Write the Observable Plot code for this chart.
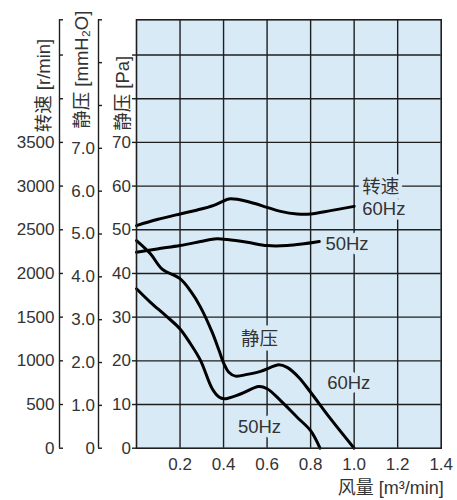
<!DOCTYPE html>
<html><head><meta charset="utf-8">
<script src="https://cdn.jsdelivr.net/npm/d3@7"></script>
<script src="https://cdn.jsdelivr.net/npm/@observablehq/plot@0.6"></script>
<style>
html,body{margin:0;padding:0;background:#fff;}
</style></head><body><div id="chart"></div>
<script>
// unit conversions of the three left axes
const PA_PER_MMH2O = 9.80665;
const RPM_PER_PA = 50;
const Y_TOP_MMH2O = 10;

// speed curves: flow [m3/min] -> r/min
const speed60Flow = [0, 0.095, 0.2, 0.28, 0.355, 0.394, 0.424, 0.463, 0.54, 0.6, 0.662, 0.738, 0.8, 0.892, 1.0];
const speed60Rpm  = [2548, 2617, 2681, 2727, 2780, 2822, 2853, 2849, 2803, 2757, 2711, 2681, 2681, 2719, 2768];
const speed50Flow = [0, 0.095, 0.2, 0.294, 0.34, 0.371, 0.417, 0.509, 0.6, 0.692, 0.769, 0.84];
const speed50Rpm  = [2243, 2281, 2319, 2365, 2388, 2396, 2388, 2357, 2319, 2319, 2339, 2365];

// static pressure curves: flow [m3/min] -> Pa
const static60Flow = [0, 0.064, 0.118, 0.2, 0.248, 0.294, 0.348, 0.379, 0.402, 0.424, 0.455, 0.509, 0.57, 0.616, 0.654, 0.692, 0.746, 0.8, 0.892, 1.0];
const static60Pa   = [47.5, 44.5, 41.0, 38.8, 36.0, 32.3, 26.5, 22.4, 19.3, 17.4, 16.5, 16.9, 17.6, 18.5, 19.1, 18.5, 16.2, 12.8, 6.7, 0];
const static50Flow = [0, 0.064, 0.133, 0.2, 0.248, 0.294, 0.348, 0.379, 0.402, 0.478, 0.562, 0.6, 0.662, 0.738, 0.8, 0.843];
const static50Pa   = [36.5, 33.4, 30.4, 27.3, 23.9, 20.1, 13.6, 11.7, 11.3, 12.4, 14.1, 13.6, 10.9, 7.1, 4.0, 0];

// ticks
const xTicks = [0.2, 0.4, 0.6, 0.8, 1.0, 1.2, 1.4];
const xGrid = [0.2, 0.4, 0.6, 0.8, 1.0, 1.2];
const paTicks = [0, 10, 20, 30, 40, 50, 60, 70, 80, 90];
const paLabelMax = 70;
const rpmTicks = [0, 500, 1000, 1500, 2000, 2500, 3000, 3500, 4000, 4500];
const rpmLabelMax = 3500;
const mmTicks = [0, 1, 2, 3, 4, 5, 6, 7, 8, 9];
const mmLabelMax = 7;
const paGrid = [10, 20, 30, 40, 50, 60, 70, 80, 90];

// annotations (left edge of each label)
const labelText = ["转速", "60Hz", "50Hz", "静压", "60Hz", "50Hz"];
const labelFlow = [1.037, 1.037, 0.868, 0.48, 0.876, 0.466];
const labelPa   = [59.8, 54.8, 46.8, 25.0, 14.9, 4.8];

const yTop = Y_TOP_MMH2O * PA_PER_MMH2O;
const zip = (xs, ys) => xs.map((x, i) => ({x, y: ys[i]}));
const speed60 = zip(speed60Flow, speed60Rpm.map(r => r / RPM_PER_PA));
const speed50 = zip(speed50Flow, speed50Rpm.map(r => r / RPM_PER_PA));
const static60 = zip(static60Flow, static60Pa);
const static50 = zip(static50Flow, static50Pa);
const labels = labelText.map((t, i) => ({t, x: labelFlow[i], y: labelPa[i]}));

const BG = "#d9eaf7";
const INK = "#1e1e1e";
const TXT = "#333333";
const FONT = '"Liberation Sans", Arial, "Noto Sans CJK SC", sans-serif';

const rpmAxisTicks = [...rpmTicks.map(r => r / RPM_PER_PA), yTop];
const mmAxisTicks = [...mmTicks.map(m => m * PA_PER_MMH2O), yTop];
const paAxisTicks = paTicks;

const plot = Plot.plot({
  width: 457,
  height: 500,
  marginLeft: 136,
  marginRight: 16.3,
  marginTop: 19.3,
  marginBottom: 52.3,
  style: {fontFamily: FONT, fontSize: "17px", color: TXT, background: "#fff"},
  x: {domain: [0, 1.4]},
  y: {domain: [0, yTop]},
  marks: [
    Plot.frame({fill: BG, stroke: null}),
    Plot.ruleX(xGrid, {stroke: INK, strokeWidth: 1.4}),
    Plot.ruleY(paGrid, {stroke: INK, strokeWidth: 1.4}),
    Plot.line(speed60, {x: "x", y: "y", curve: "catmull-rom", stroke: "#000", strokeWidth: 3}),
    Plot.line(speed50, {x: "x", y: "y", curve: "catmull-rom", stroke: "#000", strokeWidth: 3}),
    Plot.line(static60, {x: "x", y: "y", curve: "catmull-rom", stroke: "#000", strokeWidth: 3}),
    Plot.line(static50, {x: "x", y: "y", curve: "catmull-rom", stroke: "#000", strokeWidth: 3}),
    Plot.text(labels, {x: "x", y: "y", text: "t", textAnchor: "start", fontSize: 18.5, fill: TXT, stroke: BG, strokeWidth: 9, paintOrder: "stroke"}),
    Plot.frame({stroke: INK, strokeWidth: 1.6}),
    // Pa axis
    Plot.axisY({ticks: paAxisTicks, tickFormat: d => d <= paLabelMax ? String(d) : "", tickSize: 4, tickPadding: 1.5, stroke: INK, strokeWidth: 1.4, fill: TXT, label: null}),
    // mmH2O axis
    Plot.ruleX([0], {y1: 0, y2: yTop, dx: -38, stroke: INK, strokeWidth: 1.4}),
    Plot.axisY({ticks: mmAxisTicks, tickFormat: d => { const m = d / PA_PER_MMH2O; return m <= mmLabelMax + 1e-9 ? (m === 0 ? "0" : m.toFixed(1)) : ""; }, tickSize: -4, tickPadding: 7.5, dx: -38, stroke: INK, strokeWidth: 1.4, fill: TXT, label: null}),
    // rpm axis
    Plot.ruleX([0], {y1: 0, y2: yTop, dx: -77, stroke: INK, strokeWidth: 1.4}),
    Plot.axisY({ticks: rpmAxisTicks, tickFormat: d => { const r = Math.round(d * RPM_PER_PA); return r <= rpmLabelMax ? String(r) : ""; }, tickSize: -4, tickPadding: 9, dx: -77, stroke: INK, strokeWidth: 1.4, fill: TXT, label: null}),
    // x axis
    Plot.axisX({ticks: xTicks, tickFormat: d => d.toFixed(1), tickSize: 0, tickPadding: 10, fill: TXT, label: null}),
    // axis titles
    Plot.text(["转速 [r/min]"], {frameAnchor: "top-left", rotate: -90, textAnchor: "start", lineAnchor: "middle", dx: -92, dy: 112.5, fontSize: 18.5, fill: TXT}),
    Plot.text(["静压 [mmH₂O]"], {frameAnchor: "top-left", rotate: -90, textAnchor: "start", lineAnchor: "middle", dx: -54, dy: 109, fontSize: 18.5, fill: TXT}),
    Plot.text(["静压 [Pa]"], {frameAnchor: "top-left", rotate: -90, textAnchor: "start", lineAnchor: "middle", dx: -13.5, dy: 111, fontSize: 18.5, fill: TXT}),
    Plot.text(["风量 [m³/min]"], {frameAnchor: "bottom-right", textAnchor: "end", lineAnchor: "middle", dx: 2.5, dy: 40.5, fontSize: 18, fill: TXT})
  ]
});
document.getElementById("chart").appendChild(plot);
</script>
</body></html>
